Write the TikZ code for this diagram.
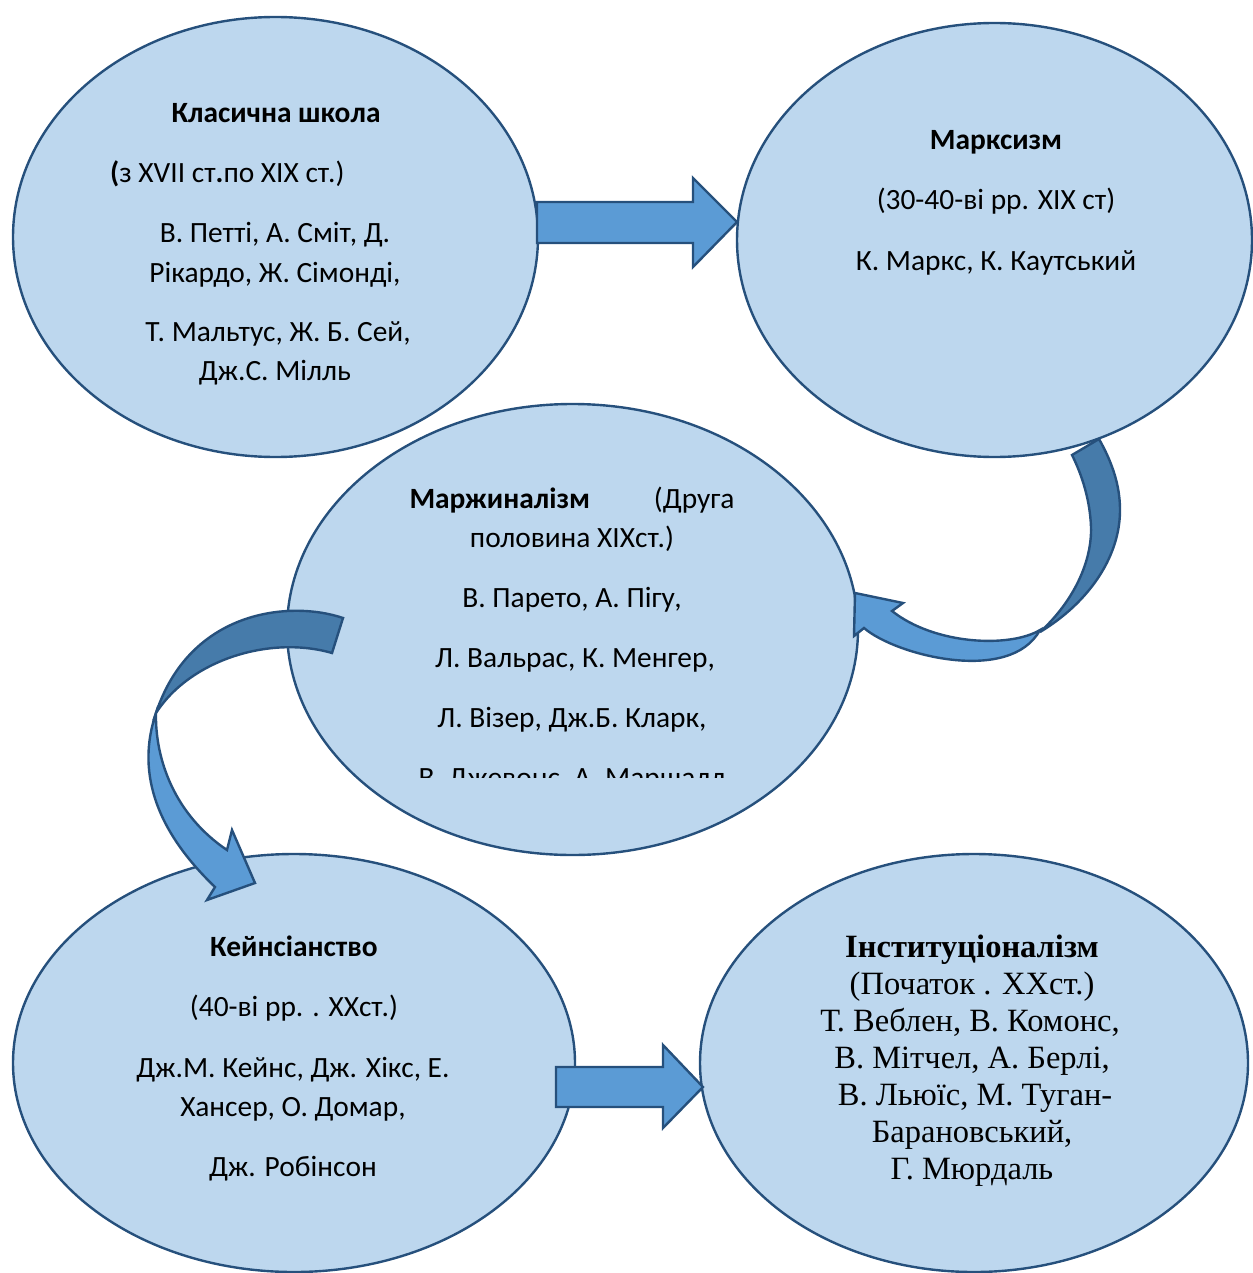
\documentclass[tikz,border=0pt]{standalone}
\usepackage{fontspec}
\setmainfont{Carlito}
\newfontfamily\tnr{Liberation Serif}
\usetikzlibrary{shapes.geometric}
\definecolor{ellfill}{HTML}{BDD7EE}
\definecolor{edgec}{HTML}{26507C}
\definecolor{arrfill}{HTML}{5B9BD5}
\definecolor{arrdark}{HTML}{467BAA}
\begin{document}
\begin{tikzpicture}[x=1pt,y=-1pt,
  ell/.style={ellipse, draw=edgec, fill=ellfill, line width=2.4pt, inner sep=0pt},
  blk/.style={draw=edgec, fill=arrfill, line width=2.4pt, line join=miter},
  blkdark/.style={draw=edgec, fill=arrdark, line width=2.4pt, line join=miter},
  t/.style={inner sep=0pt, anchor=base, font=\fontsize{29.4pt}{35pt}\selectfont},
  ts/.style={inner sep=0pt, anchor=base, font=\tnr\fontsize{32.5pt}{38pt}\selectfont}]
\useasboundingbox (0,0) rectangle (1252,1273);

% ellipses
\node[ell, minimum width=525pt, minimum height=440pt] (e1) at (275.5,237) {};
\node[ell, minimum width=515pt, minimum height=434pt] (e2) at (994.5,240) {};
\node[ell, minimum width=571pt, minimum height=451pt] (e3) at (572.5,629.5) {};
\node[ell, minimum width=562pt, minimum height=418pt] (e4) at (294,1063) {};
\node[ell, minimum width=548pt, minimum height=418pt] (e5) at (974,1063) {};

% straight block arrows
\draw[blk] (537,202) -- (693,202) -- (693,178) -- (737,222) -- (693,267) -- (693,243) -- (537,243) -- cycle;
\draw[blk] (556,1067) -- (663,1067) -- (663,1045) -- (703,1087) -- (663,1128) -- (663,1107) -- (556,1107) -- cycle;

% curved arrow Marxism -> Marginalism
\draw[blkdark] (1072,455) -- (1099,439) .. controls (1112,462) and (1120,485) .. (1120,510)
   .. controls (1120,560) and (1085,605) .. (1040,632)
   .. controls (1075,600) and (1092,560) .. (1091,527)
   .. controls (1090,500) and (1082,475) .. (1072,455) -- cycle;
\draw[blk] (1040,630) .. controls (1010,648) and (935,645) .. (892,611)
   -- (903,603) -- (855,593) -- (854,636) -- (864,628)
   .. controls (895,655) and (1010,685) .. (1040,630) -- cycle;

% curved arrow Marginalism -> Keynesianism
\draw[blkdark] (343,618) .. controls (290,600) and (190,610) .. (156,713)
   .. controls (190,660) and (270,635) .. (332,653) -- cycle;
\draw[blk] (156,713) .. controls (140,760) and (145,820) .. (215,887)
   -- (207,900) -- (255,883) -- (232,830) -- (227,850)
   .. controls (175,815) and (155,760) .. (156,713) -- cycle;

% texts: Classical school
\node[t] (c1) at (276,123) {\textbf{Класична школа}};
\node[t, anchor=base west] (c2) at (110,183) {\textbf{(}з XVII ст\textbf{.}по XIX ст.)};
\node[t] (c3) at (275,243) {В. Петті, А. Сміт, Д.};
\node[t] (c4) at (275,282) {Рікардо, Ж. Сімонді,};
\node[t] (c5) at (278,341) {Т. Мальтус, Ж. Б. Сей,};
\node[t] (c6) at (275,380) {Дж.С. Мілль};

% Marxism
\node[t] (m1) at (996,150) {\textbf{Марксизм}};
\node[t] (m2) at (996,210) {(30-40-ві рр. XIX ст)};
\node[t] (m3) at (996,270) {К. Маркс, К. Каутський};

% Marginalism
\node[t] (g1) at (572,508) {\makebox[325pt]{\textbf{Маржиналізм}\hfill(Друга}};
\node[t] (g2) at (572,547) {половина XIXст.)};
\node[t] (g3) at (572,607) {В. Парето, А. Пігу,};
\node[t] (g4) at (575,667) {Л. Вальрас, К. Менгер,};
\node[t] (g5) at (572,727) {Л. Візер, Дж.Б. Кларк,};
\begin{scope}
\clip (380,740) rectangle (770,777);
\node[t] (g6) at (572,787) {В. Джевонс, А. Маршалл};
\end{scope}

% Keynesianism
\node[t] (k1) at (294,956) {\textbf{Кейнсіанство}};
\node[t] (k2) at (294,1016) {(40-ві рр. . XXст.)};
\node[t] (k3) at (293,1077) {Дж.М. Кейнс, Дж. Хікс, Е.};
\node[t] (k4) at (293,1116) {Хансер, О. Домар,};
\node[t] (k5) at (293,1176) {Дж. Робінсон};

% Institutionalism
\node[ts] (i1) at (972,957) {\textbf{Інституціоналізм}};
\node[ts] (i2) at (972,994) {(Початок . XXст.)};
\node[ts] (i3) at (970,1031) {Т. Веблен, В. Комонс,};
\node[ts] (i4) at (972,1068) {В. Мітчел, А. Берлі,};
\node[ts] (i5) at (975,1105) {В. Льюїс, М. Туган-};
\node[ts] (i6) at (972,1142) {Барановський,};
\node[ts] (i7) at (972,1179) {Г. Мюрдаль};
\end{tikzpicture}
\end{document}
